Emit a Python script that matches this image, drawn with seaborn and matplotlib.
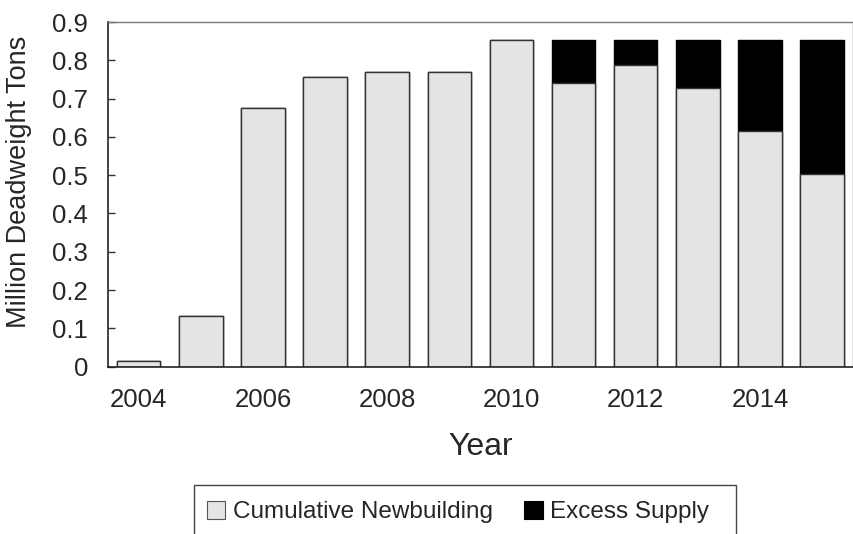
import matplotlib
matplotlib.use("Agg")
import matplotlib.pyplot as plt
from matplotlib.patches import Patch, Rectangle
from matplotlib.transforms import IdentityTransform
import seaborn as sns
import pandas as pd

# Newbuilding capacity by year (million DWT)
years = [2004, 2005, 2006, 2007, 2008, 2009, 2010, 2011, 2012, 2013, 2014, 2015]
cumulative_newbuilding = [0.014, 0.132, 0.676, 0.756, 0.769, 0.769, 0.854,
                          0.741, 0.787, 0.728, 0.615, 0.504]
excess_supply = [0.0, 0.0, 0.0, 0.0, 0.0, 0.0, 0.0,
                 0.113, 0.067, 0.126, 0.239, 0.350]
y_ticks = [0, 0.1, 0.2, 0.3, 0.4, 0.5, 0.6, 0.7, 0.8, 0.9]
y_tick_labels = ["0", "0.1", "0.2", "0.3", "0.4", "0.5", "0.6", "0.7", "0.8", "0.9"]
x_tick_years = [2004, 2006, 2008, 2010, 2012, 2014]

df = pd.DataFrame({
    "Year": [str(y) for y in years],
    "Cumulative": cumulative_newbuilding,
    "Excess": excess_supply,
})
df["Total"] = df["Cumulative"] + df["Excess"]

sns.set_style("white")
plt.rcParams["font.family"] = ["Liberation Sans", "DejaVu Sans"]

fig = plt.figure(figsize=(8.54, 5.34), dpi=100)
ax = fig.add_axes([0.126, 0.3133, 0.873, 0.6455])

order = df["Year"].tolist()
# Total height first (black), then the newbuilding part drawn over it
sns.barplot(data=df, x="Year", y="Total", order=order, color="black",
            saturation=1, width=0.7, edgecolor="black", linewidth=1, ax=ax)
sns.barplot(data=df, x="Year", y="Cumulative", order=order, color="#e4e4e4",
            saturation=1, width=0.7, edgecolor="#333333", linewidth=1, ax=ax)

ax.set_xlim(-0.5, len(years) - 0.5)
ax.set_ylim(0, 0.9)
ax.set_yticks(y_ticks)
ax.set_yticklabels(y_tick_labels)
ax.set_xticks([order.index(str(y)) for y in x_tick_years])
ax.set_xticklabels([str(y) for y in x_tick_years])

ax.tick_params(axis="y", direction="in", length=5, width=1, color="#333333",
               labelsize=18.5, pad=14, left=True)
ax.tick_params(axis="x", length=0, labelsize=18.5, pad=15.5)

ax.set_xlabel("Year", fontsize=23, labelpad=14)
ax.set_ylabel("Million Deadweight Tons", fontsize=19.5)
ax.yaxis.set_label_coords(-0.102, 0.537)

for side in ["left", "bottom"]:
    ax.spines[side].set_color("#222222")
    ax.spines[side].set_linewidth(1.2)
for side in ["top", "right"]:
    ax.spines[side].set_color("#777777")
    ax.spines[side].set_linewidth(1.0)

handles = [
    Patch(facecolor="#e4e4e4", edgecolor="#555555", linewidth=0.8, label="Cumulative Newbuilding"),
    Patch(facecolor="black", edgecolor="black", linewidth=0.8, label="Excess Supply"),
]
leg = ax.legend(handles=handles, loc="upper center", bbox_to_anchor=(0.47, -0.358),
                ncol=2, fontsize=17.5, frameon=False,
                handlelength=0.75, handleheight=0.75, handletextpad=0.3,
                columnspacing=1.3, borderpad=0.45, borderaxespad=0)

# Legend frame: open towards the bottom edge of the figure
fig.canvas.draw()
bb = leg.get_window_extent()
frame = Rectangle((bb.x0 - 2, bb.y0 - 40), bb.width + 18, bb.height + 40 + 5,
                  transform=IdentityTransform(), fill=False,
                  edgecolor="#444444", linewidth=1.0)
fig.add_artist(frame)

fig.savefig("out.png", dpi=100)
